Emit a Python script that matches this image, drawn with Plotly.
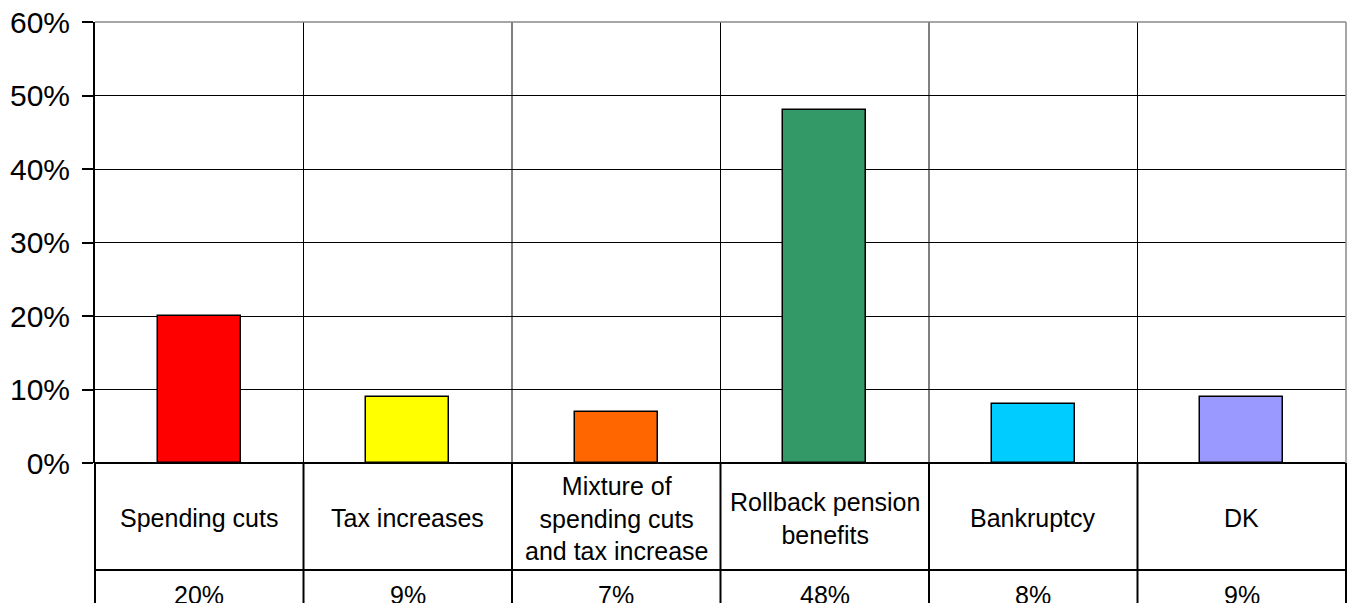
import plotly.graph_objects as go

categories = ["Spending cuts", "Tax increases", "Mixture of<br>spending cuts<br>and tax increase",
              "Rollback pension<br>benefits", "Bankruptcy", "DK"]
values = [20, 9, 7, 48, 8, 9]
value_labels = ["20%", "9%", "7%", "48%", "8%", "9%"]
tick_values = [0, 10, 20, 30, 40, 50, 60]
tick_labels = ["0%", "10%", "20%", "30%", "40%", "50%", "60%"]
colors = ["#FF0000", "#FFFF00", "#FF6600", "#339966", "#00CCFF", "#9999FF"]

W, H = 1347, 603
ML, MR, MT, MB = 95, 1, 22, 140
plot_h = H - MT - MB

def py(px_below_zero):
    return -px_below_zero / plot_h

FONT = "Liberation Sans, Arial, sans-serif"
n = len(categories)
xs = list(range(n))

fig = go.Figure()
fig.add_trace(go.Bar(
    x=xs, y=values, width=0.4,
    marker=dict(color=colors, line=dict(color="black", width=1.5)),
    hoverinfo="skip", showlegend=False,
))

shapes = []
for i in range(n - 1):
    shapes.append(dict(type="line", xref="x", yref="paper", x0=i + 0.5, x1=i + 0.5,
                       y0=0, y1=1, line=dict(color="black", width=1), layer="above"))
shapes.append(dict(type="line", xref="paper", yref="paper", x0=0, x1=1, y0=1, y1=1,
                   line=dict(color="#888888", width=1.5), layer="above"))
shapes.append(dict(type="line", xref="paper", yref="paper", x0=1, x1=1, y0=0, y1=1,
                   line=dict(color="#888888", width=1.5), layer="above"))
for i in range(n + 1):
    shapes.append(dict(type="line", xref="paper", yref="paper", x0=i / n, x1=i / n,
                       y0=0, y1=py(160), line=dict(color="black", width=2), layer="above"))
shapes.append(dict(type="line", xref="paper", yref="paper", x0=0, x1=1,
                   y0=py(107), y1=py(107), line=dict(color="black", width=2), layer="above"))

annotations = []
for i, c in enumerate(categories):
    annotations.append(dict(x=i, xref="x", y=py(55), yref="paper", text=c, showarrow=False,
                            xanchor="center", yanchor="middle",
                            font=dict(family=FONT, size=25, color="black")))
    annotations.append(dict(x=i, xref="x", y=py(116), yref="paper", text=value_labels[i],
                            showarrow=False, xanchor="center", yanchor="top",
                            font=dict(family=FONT, size=25, color="black")))

fig.update_layout(
    width=W, height=H,
    margin=dict(l=ML, r=MR, t=MT, b=MB, pad=0, autoexpand=False),
    paper_bgcolor="white", plot_bgcolor="white",
    shapes=shapes, annotations=annotations,
    bargap=0,
    xaxis=dict(range=[-0.5, n - 0.5], showgrid=False, showticklabels=False, ticks="",
               zeroline=False, showline=False, fixedrange=True, automargin=False),
    yaxis=dict(range=[0, 60], tickmode="array", tickvals=tick_values, ticktext=tick_labels,
               showgrid=True, gridcolor="black", gridwidth=1,
               ticks="outside", ticklen=11, tickwidth=2, tickcolor="black",
               showline=True, linecolor="black", linewidth=2,
               zeroline=True, zerolinecolor="black", zerolinewidth=2,
               tickfont=dict(family=FONT, size=30, color="black"),
               ticklabelstandoff=6, ticklabeloverflow="allow", fixedrange=True,
               automargin=False),
)

fig.write_html("out.html", config={"displayModeBar": False},
               post_script="document.body.style.margin='0';document.body.style.overflow='hidden';")
